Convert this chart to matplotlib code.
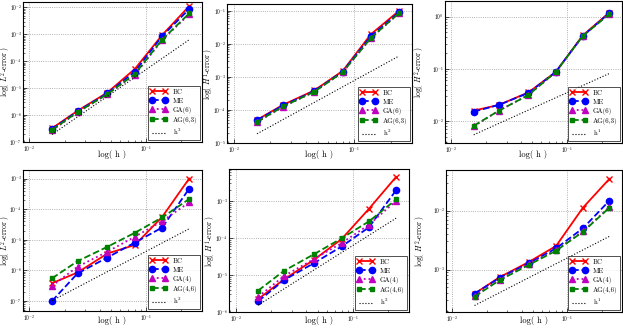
import numpy as np
import matplotlib
matplotlib.use("Agg")
import matplotlib.pyplot as plt

plt.rcParams["mathtext.fontset"] = "cm"
plt.rcParams["font.family"] = "serif"
plt.rcParams["font.serif"] = ["cmr10", "DejaVu Serif"]
plt.rcParams["axes.formatter.use_mathtext"] = True
plt.rcParams["xtick.direction"] = "in"
plt.rcParams["ytick.direction"] = "in"

# mesh sizes (shared by all panels)
h = np.array([0.0156, 0.0258, 0.0465, 0.080, 0.137, 0.233])

# top row: order-6 methods, log10 of errors
top_bc = [[-6.49, -5.84, -5.16, -4.28, -3.02, -1.95],
          [-4.30, -3.84, -3.41, -2.82, -1.71, -1.01],
          [-1.80, -1.69, -1.45, -1.06, -0.36, 0.08]]
top_me = [[-6.52, -5.86, -5.19, -4.38, -3.06, -2.06],
          [-4.31, -3.86, -3.43, -2.84, -1.77, -1.05],
          [-1.82, -1.69, -1.46, -1.06, -0.37, 0.07]]
top_ga = [[-6.57, -5.90, -5.22, -4.50, -3.21, -2.25],
          [-4.37, -3.90, -3.45, -2.86, -1.83, -1.08],
          [-2.10, -1.80, -1.50, -1.06, -0.37, 0.06]]
top_ag = [[-6.55, -5.89, -5.22, -4.47, -3.19, -2.22],
          [-4.36, -3.89, -3.45, -2.86, -1.82, -1.08],
          [-2.09, -1.80, -1.50, -1.06, -0.37, 0.05]]

# bottom row: order-4 methods
bot_bc = [[-6.42, -6.07, -5.45, -5.17, -4.25, -3.00],
          [-5.65, -5.12, -4.59, -4.03, -3.21, -2.35],
          [-3.41, -3.13, -2.87, -2.60, -1.95, -1.46]]
bot_me = [[-7.00, -6.10, -5.58, -5.09, -4.60, -3.33],
          [-5.71, -5.14, -4.68, -4.23, -3.71, -2.71],
          [-3.41, -3.14, -2.89, -2.64, -2.30, -1.83]]
bot_ga = [[-6.51, -5.88, -5.39, -4.90, -4.39, -3.78],
          [-5.59, -5.03, -4.57, -4.14, -3.64, -3.00],
          [-3.45, -3.17, -2.90, -2.67, -2.35, -1.94]]
bot_ag = [[-6.26, -5.70, -5.23, -4.77, -4.27, -3.67],
          [-5.42, -4.89, -4.44, -4.01, -3.55, -2.96],
          [-3.46, -3.18, -2.92, -2.68, -2.36, -1.95]]

# reference slopes: (constant, power)
top_ref = [(0.05, 3), (0.078, 2), (0.35, 1)]
bot_ref = [(4.2e-4, 2), (6.3e-3, 2), (0.0157, 1)]

ylabels = ["log( $L^2$-error )", "log( $H^1$-error )", "log( $H^2$-error )"]

top_ylim = [(1e-7, 1.6e-2), (1e-5, 0.16), (3.8e-3, 2.0)]
bot_ylim = [(4.7e-8, 1.9e-3), (1e-6, 7.3e-3), (1.9e-4, 4.9e-2)]

# axes boxes in pixels: left, top, right, bottom
W, H = 623, 330
boxes = [[(23, 2, 202, 142), (227, 4, 412, 143), (445, 1, 622, 143)],
         [(23, 170, 202, 311), (229, 169, 409, 312), (446, 170, 622, 312)]]
# x pixel of the y label centre, y pixel of the top of the x label
ylab_x = [[6, 209, 420], [6, 211, 421]]
xlab_y = [150, 316]

fig = plt.figure(figsize=(W / 100, H / 100), dpi=100)


def draw(ax, bc, me, ga, ag, ref, names, ylabel, ylim):
    ax.plot(h, 10 ** np.array(bc), "r-x", lw=1.3, ms=5, mew=1.0, label="BC")
    ax.plot(h, 10 ** np.array(me), "b--o", lw=1.3, ms=4.5, mec="b", label="ME")
    ax.plot(h, 10 ** np.array(ga), "m:^", lw=1.3, ms=4.5, mec="m", label=names[0])
    ax.plot(h, 10 ** np.array(ag), "--s", color=(0, 0.5, 0), lw=1.3, ms=3,
            mec=(0, 0.5, 0), label=names[1])
    c, p = ref
    ax.plot(h, c * h ** p, "k:", lw=0.8, label=r"h$^%d$" % p)
    ax.set_xscale("log")
    ax.set_yscale("log")
    ax.set_xlim(0.0088, 0.3)
    ax.set_ylim(*ylim)
    ax.grid(True, which="major", color="0.6", ls=":", lw=0.6)
    ax.tick_params(labelsize=3.8, length=3, width=0.5, pad=1.5)
    ax.tick_params(axis="y", pad=1)
    ax.tick_params(which="minor", length=1.5, width=0.4)
    ax.set_xlabel("log( h )", fontsize=6.2)
    ax.set_ylabel(ylabel, fontsize=5.6, va="center")
    for s in ax.spines.values():
        s.set_linewidth(0.8)
    leg = ax.legend(loc="lower right", fontsize=5, numpoints=2,
                    handlelength=2.4, borderaxespad=0.3, fancybox=False,
                    labelspacing=0.45, borderpad=0.4)
    leg.get_frame().set_edgecolor("k")
    leg.get_frame().set_linewidth(0.6)


for row in range(2):
    for col in range(3):
        l, t, r, b = boxes[row][col]
        ax = fig.add_axes([l / W, 1 - b / H, (r - l) / W, (b - t) / H])
        if row == 0:
            draw(ax, top_bc[col], top_me[col], top_ga[col], top_ag[col],
                 top_ref[col], ["GA(6)", "AG(6,3)"], ylabels[col], top_ylim[col])
        else:
            draw(ax, bot_bc[col], bot_me[col], bot_ga[col], bot_ag[col],
                 bot_ref[col], ["GA(4)", "AG(4,6)"], ylabels[col], bot_ylim[col])
        ax.yaxis.set_label_coords((ylab_x[row][col] - l) / (r - l), 0.5)
        ax.xaxis.set_label_coords(0.5, -(xlab_y[row] - b) / (b - t))

fig.savefig("out.png", dpi=100)
